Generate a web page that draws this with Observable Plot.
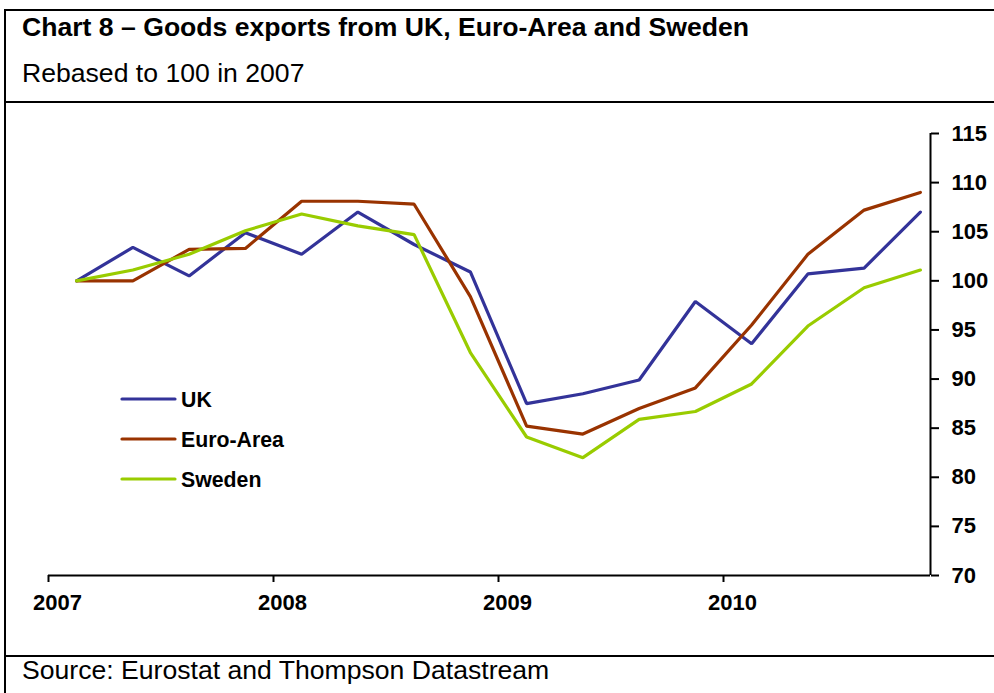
<!DOCTYPE html>
<html>
<head>
<meta charset="utf-8">
<script src="https://cdn.jsdelivr.net/npm/d3@7"></script>
<script src="https://cdn.jsdelivr.net/npm/@observablehq/plot@0.6"></script>
<style>
  html, body { margin: 0; padding: 0; background: #fff; }
  body { width: 994px; height: 693px; position: relative; overflow: hidden; font-family: "Liberation Sans", Arial, sans-serif; }
  #frame { position: absolute; left: 0; top: 0; }
  #chart { position: absolute; left: 0; top: 103px; }
</style>
</head>
<body>
<svg id="frame" width="994" height="693"></svg>
<div id="chart"></div>
<script>
// ---- data ----
const quarters = ["2007Q1","2007Q2","2007Q3","2007Q4","2008Q1","2008Q2","2008Q3","2008Q4",
                  "2009Q1","2009Q2","2009Q3","2009Q4","2010Q1","2010Q2","2010Q3","2010Q4"];
const ukValues     = [100, 103.4, 100.5, 104.9, 102.7, 107.0, 103.7, 100.9, 87.5, 88.5, 89.9, 97.9, 93.6, 100.7, 101.3, 107.0];
const euroValues   = [100, 100.0, 103.2, 103.3, 108.1, 108.1, 107.8,  98.4, 85.2, 84.4, 87.0, 89.1, 95.5, 102.7, 107.2, 109.0];
const swedenValues = [100, 101.1, 102.7, 105.1, 106.8, 105.6, 104.7,  92.7, 84.1, 82.0, 85.9, 86.7, 89.5, 95.4, 99.3, 101.1];
const seriesNames  = ["UK", "Euro-Area", "Sweden"];
const seriesColors = ["#333399", "#993300", "#99CC00"];
const yTicks = [70, 75, 80, 85, 90, 95, 100, 105, 110, 115];
const xTicks = [2007, 2008, 2009, 2010];
const xDomain = [2007, 2010.92];
const yDomain = [70, 115];
const titleText = "Chart 8 \u2013 Goods exports from UK, Euro-Area and Sweden";
const subtitleText = "Rebased to 100 in 2007";
const sourceText = "Source: Eurostat and Thompson Datastream";

// quarter label -> mid-quarter decimal year
const qToYear = q => +q.slice(0, 4) + (+q.slice(5) - 0.5) / 4;
const allValues = [ukValues, euroValues, swedenValues];
const rows = [];
seriesNames.forEach((s, i) => quarters.forEach((q, j) => rows.push({series: s, t: qToYear(q), v: allValues[i][j]})));

// ---- frame, header, footer, legend ----
const f = d3.select("#frame");
const ff = "'Liberation Sans', Arial, sans-serif";
f.append("line").attr("x1", 5).attr("x2", 5).attr("y1", 10).attr("y2", 693).attr("stroke", "#000").attr("stroke-width", 2);
[10, 102, 656].forEach(y => f.append("line").attr("x1", 4).attr("x2", 994).attr("y1", y).attr("y2", y).attr("stroke", "#000").attr("stroke-width", 2));
f.append("text").attr("x", 22).attr("y", 35.5).attr("font-family", ff).attr("font-size", 26.6).attr("font-weight", "bold").text(titleText);
f.append("text").attr("x", 22).attr("y", 82).attr("font-family", ff).attr("font-size", 26.6).text(subtitleText);
f.append("text").attr("x", 22).attr("y", 679).attr("font-family", ff).attr("font-size", 26.6).text(sourceText);
seriesNames.forEach((s, i) => {
  const y = 399 + i * 40;
  f.append("line").attr("x1", 122).attr("x2", 175).attr("y1", y).attr("y2", y).attr("stroke", seriesColors[i]).attr("stroke-width", 3.2).attr("stroke-linecap", "round");
  f.append("text").attr("x", 181).attr("y", y + 7.5).attr("font-family", ff).attr("font-size", 21.3).attr("font-weight", "bold").text(s);
});

// ---- chart ----
const chart = Plot.plot({
  width: 994,
  height: 553,
  marginLeft: 48,
  marginRight: 64,
  marginTop: 30,
  marginBottom: 81,
  style: {fontFamily: ff, background: "transparent", overflow: "visible"},
  x: {domain: xDomain},
  y: {domain: yDomain},
  color: {domain: seriesNames, range: seriesColors},
  marks: [
    Plot.ruleY([yDomain[0]], {stroke: "#000", strokeWidth: 2}),
    Plot.ruleX([xDomain[1]], {stroke: "#000", strokeWidth: 2}),
    Plot.axisY({anchor: "right", ticks: yTicks, tickSize: 8, tickPadding: 13, strokeWidth: 2, fontSize: 22, fontWeight: "bold", fill: "#000", label: null, tickFormat: d => String(d)}),
    Plot.axisX({anchor: "bottom", ticks: xTicks, tickSize: 7, strokeWidth: 2, label: null, tickFormat: () => ""}),
    Plot.axisX({anchor: "bottom", ticks: xTicks, tickSize: 0, tickPadding: 19, fontSize: 22, fontWeight: "bold", fill: "#000", label: null, dx: 9, tickFormat: d => String(d)}),
    Plot.line(rows, {x: "t", y: "v", z: "series", stroke: "series", strokeWidth: 3.2, strokeLinejoin: "miter"})
  ]
});
document.getElementById("chart").appendChild(chart);
</script>
</body>
</html>
